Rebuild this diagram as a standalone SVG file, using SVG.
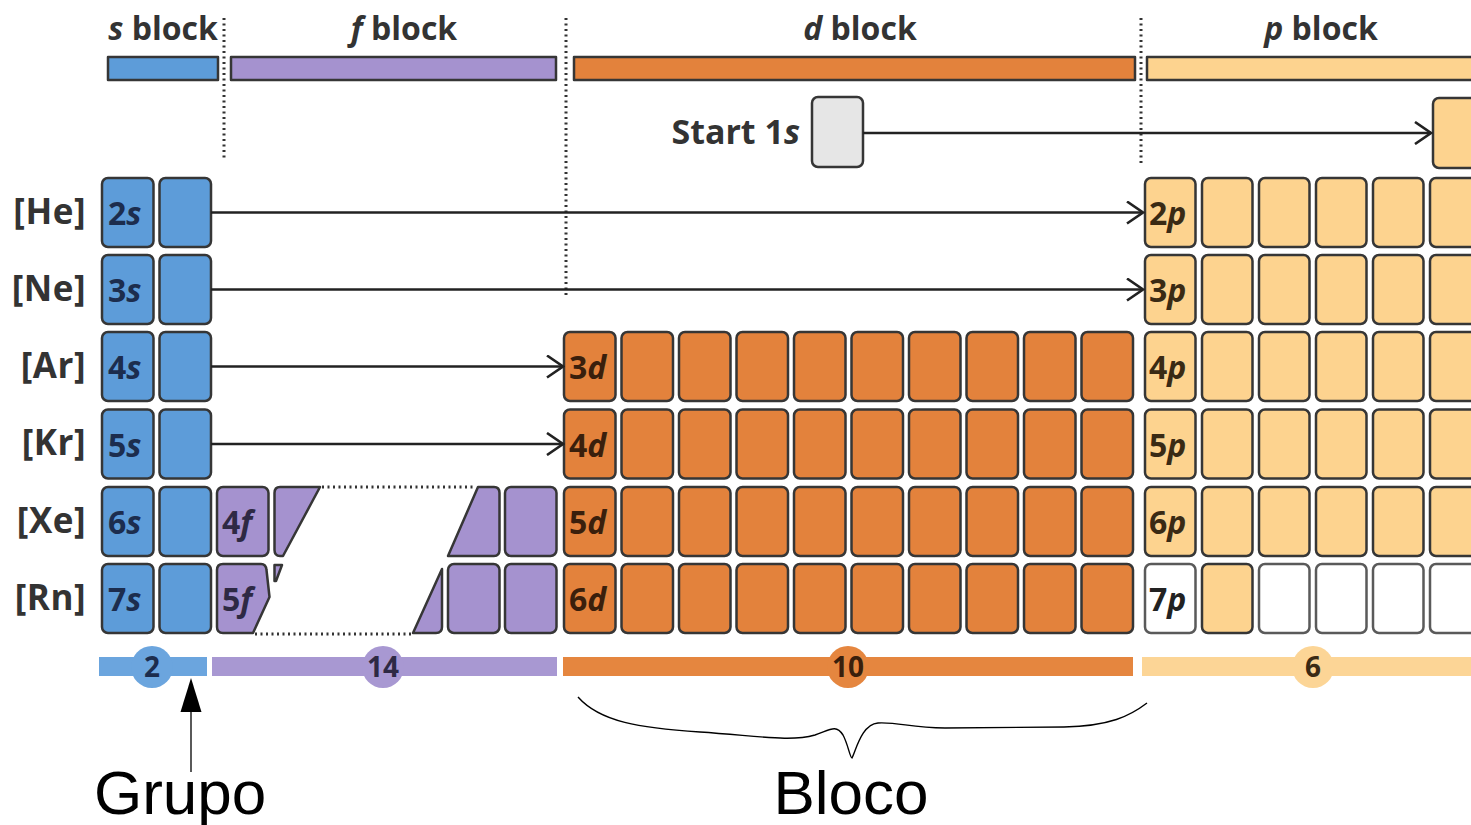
<svg xmlns="http://www.w3.org/2000/svg" width="1471" height="825" viewBox="0 0 1471 825">
<defs>
<style>
.c{stroke:#363636;stroke-width:2.5;stroke-linejoin:round}
.sb{fill:#5d9cd9}.fb{fill:#a592cf}.db{fill:#e3823c}.pb{fill:#fdd38f}.wb{fill:#ffffff;stroke:#5a5a5a}.gb{fill:#e6e6e6}
.t{font-family:"Open Sans","Noto Sans",sans-serif;font-weight:700}
.hd{font-size:32px;fill:#333;text-anchor:middle}
.rl{font-size:35px;fill:#333;text-anchor:end;letter-spacing:0.5px}
.cl{font-size:32px}
.sl{fill:#1c2d4e}.fl{fill:#2e2944}.dl{fill:#3a1f0c}.pl{fill:#3a2a14}
.nm{font-size:28px;text-anchor:middle}
.dot{stroke:#333;stroke-width:3;stroke-dasharray:2 3.5;fill:none}
.ar{stroke:#222;stroke-width:2.5;fill:none}
.an{font-family:"Liberation Sans",Arial,sans-serif;font-size:62px;fill:#000}
</style>
<marker id="ch" viewBox="0 0 20 24" refX="18" refY="12" markerWidth="20" markerHeight="24" markerUnits="userSpaceOnUse" orient="auto">
<path d="M2,1 L18,12 L2,23" fill="none" stroke="#222" stroke-width="2.6"/>
</marker>
</defs>
<rect width="1471" height="825" fill="#fff"/>

<g id="headers">
<rect class="c sb" x="108" y="57" width="110" height="23"/>
<rect class="c fb" x="231" y="57" width="325" height="23"/>
<rect class="c db" x="574" y="57" width="561" height="23"/>
<rect class="c pb" x="1147" y="57" width="340" height="23"/>
<text class="t hd" x="163" y="40"><tspan font-style="italic">s</tspan> block</text>
<text class="t hd" x="404" y="40"><tspan font-style="italic">f</tspan> block</text>
<text class="t hd" x="860" y="40"><tspan font-style="italic">d</tspan> block</text>
<text class="t hd" x="1321" y="40"><tspan font-style="italic">p</tspan> block</text>
<path class="dot" d="M224,18 V158 M566,18 V298 M1141,18 V166"/>
</g>

<g id="row-labels">
<text class="t rl" x="86" y="224">[He]</text>
<text class="t rl" x="86" y="301">[Ne]</text>
<text class="t rl" x="86" y="378">[Ar]</text>
<text class="t rl" x="86" y="455">[Kr]</text>
<text class="t rl" x="86" y="533">[Xe]</text>
<text class="t rl" x="86" y="610">[Rn]</text>
</g>

<g id="start-1s">
<text class="t" x="800" y="144" font-size="34" fill="#333" text-anchor="end">Start 1<tspan font-style="italic">s</tspan></text>
<rect class="c gb" x="812" y="97" width="51" height="70" rx="6"/>
<rect class="c pb" x="1433" y="98" width="51" height="70" rx="6"/>
</g>

<g id="s-block">
<rect class="c sb" x="102" y="178" width="51.5" height="69" rx="6"/><rect class="c sb" x="159.5" y="178" width="51.5" height="69" rx="6"/>
<rect class="c sb" x="102" y="255" width="51.5" height="69" rx="6"/><rect class="c sb" x="159.5" y="255" width="51.5" height="69" rx="6"/>
<rect class="c sb" x="102" y="332" width="51.5" height="69" rx="6"/><rect class="c sb" x="159.5" y="332" width="51.5" height="69" rx="6"/>
<rect class="c sb" x="102" y="409.5" width="51.5" height="69" rx="6"/><rect class="c sb" x="159.5" y="409.5" width="51.5" height="69" rx="6"/>
<rect class="c sb" x="102" y="487" width="51.5" height="69" rx="6"/><rect class="c sb" x="159.5" y="487" width="51.5" height="69" rx="6"/>
<rect class="c sb" x="102" y="564" width="51.5" height="69" rx="6"/><rect class="c sb" x="159.5" y="564" width="51.5" height="69" rx="6"/>
<text class="t cl sl" x="108" y="225">2<tspan font-style="italic">s</tspan></text>
<text class="t cl sl" x="108" y="302">3<tspan font-style="italic">s</tspan></text>
<text class="t cl sl" x="108" y="379">4<tspan font-style="italic">s</tspan></text>
<text class="t cl sl" x="108" y="456.5">5<tspan font-style="italic">s</tspan></text>
<text class="t cl sl" x="108" y="534">6<tspan font-style="italic">s</tspan></text>
<text class="t cl sl" x="108" y="611">7<tspan font-style="italic">s</tspan></text>
</g>

<g id="f-block">
<rect class="c fb" x="217" y="487" width="51.5" height="69" rx="6"/>
<path class="c fb" d="M280,487 L320,487 L283,556 L280,556 Q274.5,556 274.5,550 L274.5,493 Q274.5,487 280,487 Z"/>
<path class="c fb" d="M478,487 L494,487 Q499.5,487 499.5,493 L499.5,550 Q499.5,556 494,556 L448,556 Z"/>
<rect class="c fb" x="505" y="487" width="51.5" height="69" rx="6"/>
<path class="c fb" d="M223,564 L261,564 Q266,564 266.5,570 L269.5,597 L253,633 L223,633 Q217,633 217,627 L217,570 Q217,564 223,564 Z"/>
<path class="c fb" d="M274.5,565 L282,565 L276,581 L274.5,581 Z"/>
<path class="c fb" d="M442,569 L442,627 Q442,633 436,633 L413,633 Z"/>
<rect class="c fb" x="448" y="564" width="51.5" height="69" rx="6"/>
<rect class="c fb" x="505" y="564" width="51.5" height="69" rx="6"/>
<path class="dot" d="M322,487 H476 M255,634 H411" stroke="#555" stroke-width="2.5"/>
<text class="t cl fl" x="222" y="534">4<tspan font-style="italic">f</tspan></text>
<text class="t cl fl" x="222" y="611">5<tspan font-style="italic">f</tspan></text>
</g>

<g id="d-block">
<g id="d-row-3d">
<rect class="c db" x="564" y="332" width="51.5" height="69" rx="6"/><rect class="c db" x="621.5" y="332" width="51.5" height="69" rx="6"/><rect class="c db" x="679" y="332" width="51.5" height="69" rx="6"/><rect class="c db" x="736.5" y="332" width="51.5" height="69" rx="6"/><rect class="c db" x="794" y="332" width="51.5" height="69" rx="6"/><rect class="c db" x="851.5" y="332" width="51.5" height="69" rx="6"/><rect class="c db" x="909" y="332" width="51.5" height="69" rx="6"/><rect class="c db" x="966.5" y="332" width="51.5" height="69" rx="6"/><rect class="c db" x="1024" y="332" width="51.5" height="69" rx="6"/><rect class="c db" x="1081.5" y="332" width="51.5" height="69" rx="6"/>
</g>
<g id="d-row-4d">
<rect class="c db" x="564" y="409.5" width="51.5" height="69" rx="6"/><rect class="c db" x="621.5" y="409.5" width="51.5" height="69" rx="6"/><rect class="c db" x="679" y="409.5" width="51.5" height="69" rx="6"/><rect class="c db" x="736.5" y="409.5" width="51.5" height="69" rx="6"/><rect class="c db" x="794" y="409.5" width="51.5" height="69" rx="6"/><rect class="c db" x="851.5" y="409.5" width="51.5" height="69" rx="6"/><rect class="c db" x="909" y="409.5" width="51.5" height="69" rx="6"/><rect class="c db" x="966.5" y="409.5" width="51.5" height="69" rx="6"/><rect class="c db" x="1024" y="409.5" width="51.5" height="69" rx="6"/><rect class="c db" x="1081.5" y="409.5" width="51.5" height="69" rx="6"/>
</g>
<g id="d-row-5d">
<rect class="c db" x="564" y="487" width="51.5" height="69" rx="6"/><rect class="c db" x="621.5" y="487" width="51.5" height="69" rx="6"/><rect class="c db" x="679" y="487" width="51.5" height="69" rx="6"/><rect class="c db" x="736.5" y="487" width="51.5" height="69" rx="6"/><rect class="c db" x="794" y="487" width="51.5" height="69" rx="6"/><rect class="c db" x="851.5" y="487" width="51.5" height="69" rx="6"/><rect class="c db" x="909" y="487" width="51.5" height="69" rx="6"/><rect class="c db" x="966.5" y="487" width="51.5" height="69" rx="6"/><rect class="c db" x="1024" y="487" width="51.5" height="69" rx="6"/><rect class="c db" x="1081.5" y="487" width="51.5" height="69" rx="6"/>
</g>
<g id="d-row-6d">
<rect class="c db" x="564" y="564" width="51.5" height="69" rx="6"/><rect class="c db" x="621.5" y="564" width="51.5" height="69" rx="6"/><rect class="c db" x="679" y="564" width="51.5" height="69" rx="6"/><rect class="c db" x="736.5" y="564" width="51.5" height="69" rx="6"/><rect class="c db" x="794" y="564" width="51.5" height="69" rx="6"/><rect class="c db" x="851.5" y="564" width="51.5" height="69" rx="6"/><rect class="c db" x="909" y="564" width="51.5" height="69" rx="6"/><rect class="c db" x="966.5" y="564" width="51.5" height="69" rx="6"/><rect class="c db" x="1024" y="564" width="51.5" height="69" rx="6"/><rect class="c db" x="1081.5" y="564" width="51.5" height="69" rx="6"/>
</g>
<text class="t cl dl" x="569" y="379">3<tspan font-style="italic">d</tspan></text>
<text class="t cl dl" x="569" y="456.5">4<tspan font-style="italic">d</tspan></text>
<text class="t cl dl" x="569" y="534">5<tspan font-style="italic">d</tspan></text>
<text class="t cl dl" x="569" y="611">6<tspan font-style="italic">d</tspan></text>
</g>

<g id="p-block">
<g id="p-row-2p">
<rect class="c pb" x="1145" y="178" width="50.5" height="69" rx="6"/><rect class="c pb" x="1202" y="178" width="50.5" height="69" rx="6"/><rect class="c pb" x="1259" y="178" width="50.5" height="69" rx="6"/><rect class="c pb" x="1316" y="178" width="50.5" height="69" rx="6"/><rect class="c pb" x="1373" y="178" width="50.5" height="69" rx="6"/><rect class="c pb" x="1430" y="178" width="50.5" height="69" rx="6"/>
</g>
<g id="p-row-3p">
<rect class="c pb" x="1145" y="255" width="50.5" height="69" rx="6"/><rect class="c pb" x="1202" y="255" width="50.5" height="69" rx="6"/><rect class="c pb" x="1259" y="255" width="50.5" height="69" rx="6"/><rect class="c pb" x="1316" y="255" width="50.5" height="69" rx="6"/><rect class="c pb" x="1373" y="255" width="50.5" height="69" rx="6"/><rect class="c pb" x="1430" y="255" width="50.5" height="69" rx="6"/>
</g>
<g id="p-row-4p">
<rect class="c pb" x="1145" y="332" width="50.5" height="69" rx="6"/><rect class="c pb" x="1202" y="332" width="50.5" height="69" rx="6"/><rect class="c pb" x="1259" y="332" width="50.5" height="69" rx="6"/><rect class="c pb" x="1316" y="332" width="50.5" height="69" rx="6"/><rect class="c pb" x="1373" y="332" width="50.5" height="69" rx="6"/><rect class="c pb" x="1430" y="332" width="50.5" height="69" rx="6"/>
</g>
<g id="p-row-5p">
<rect class="c pb" x="1145" y="409.5" width="50.5" height="69" rx="6"/><rect class="c pb" x="1202" y="409.5" width="50.5" height="69" rx="6"/><rect class="c pb" x="1259" y="409.5" width="50.5" height="69" rx="6"/><rect class="c pb" x="1316" y="409.5" width="50.5" height="69" rx="6"/><rect class="c pb" x="1373" y="409.5" width="50.5" height="69" rx="6"/><rect class="c pb" x="1430" y="409.5" width="50.5" height="69" rx="6"/>
</g>
<g id="p-row-6p">
<rect class="c pb" x="1145" y="487" width="50.5" height="69" rx="6"/><rect class="c pb" x="1202" y="487" width="50.5" height="69" rx="6"/><rect class="c pb" x="1259" y="487" width="50.5" height="69" rx="6"/><rect class="c pb" x="1316" y="487" width="50.5" height="69" rx="6"/><rect class="c pb" x="1373" y="487" width="50.5" height="69" rx="6"/><rect class="c pb" x="1430" y="487" width="50.5" height="69" rx="6"/>
</g>
<g id="p-row-7p">
<rect class="c wb" x="1145" y="564" width="50.5" height="69" rx="6"/><rect class="c pb" x="1202" y="564" width="50.5" height="69" rx="6"/><rect class="c wb" x="1259" y="564" width="50.5" height="69" rx="6"/><rect class="c wb" x="1316" y="564" width="50.5" height="69" rx="6"/><rect class="c wb" x="1373" y="564" width="50.5" height="69" rx="6"/><rect class="c wb" x="1430" y="564" width="50.5" height="69" rx="6"/>
</g>
<text class="t cl pl" x="1149" y="225">2<tspan font-style="italic">p</tspan></text>
<text class="t cl pl" x="1149" y="302">3<tspan font-style="italic">p</tspan></text>
<text class="t cl pl" x="1149" y="379">4<tspan font-style="italic">p</tspan></text>
<text class="t cl pl" x="1149" y="456.5">5<tspan font-style="italic">p</tspan></text>
<text class="t cl pl" x="1149" y="534">6<tspan font-style="italic">p</tspan></text>
<text class="t cl" x="1149" y="611" fill="#222">7<tspan font-style="italic">p</tspan></text>
</g>

<g id="counts">
<rect x="99" y="657" width="108" height="19" fill="#6ba5de"/>
<circle cx="152" cy="667" r="21" fill="#6ba5de"/>
<rect x="212" y="657" width="345" height="19" fill="#a898d2"/>
<circle cx="383" cy="667" r="21" fill="#a898d2"/>
<rect x="563" y="657" width="570" height="19" fill="#e5863f"/>
<circle cx="848" cy="667" r="21" fill="#e5863f"/>
<rect x="1142" y="657" width="340" height="19" fill="#fcd596"/>
<circle cx="1313" cy="667" r="21" fill="#fcd596"/>
<text class="t nm" x="152" y="677" fill="#1c2d4e">2</text>
<text class="t nm" x="383" y="677" fill="#2e2944">14</text>
<text class="t nm" x="848" y="677" fill="#3a1f0c">10</text>
<text class="t nm" x="1313" y="677" fill="#3a2a14">6</text>
</g>

<g id="connectors">
<line class="ar" x1="863" y1="133" x2="1431" y2="133" marker-end="url(#ch)"/>
<line class="ar" x1="211" y1="212.5" x2="1143" y2="212.5" marker-end="url(#ch)"/>
<line class="ar" x1="211" y1="289.5" x2="1143" y2="289.5" marker-end="url(#ch)"/>
<line class="ar" x1="211" y1="366.5" x2="563" y2="366.5" marker-end="url(#ch)"/>
<line class="ar" x1="211" y1="444" x2="563" y2="444" marker-end="url(#ch)"/>
<line x1="191" y1="708" x2="191" y2="772" stroke="#000" stroke-width="1.3"/>
<polygon points="191,678 180.5,712 201.5,712" fill="#000"/>
<path d="M578,697 C600,722 640,728 700,732 C760,736 790,742 815,735 C830,730 836,724 843,735 C848,744 850,758 852,758 C856,750 862,724 878,723 C900,722 910,728 945,728 L1064,727 C1110,726 1130,716 1147,703" fill="none" stroke="#000" stroke-width="1.4"/>
</g>

<g id="annotations">
<text class="an" x="94" y="814">Grupo</text>
<text class="an" x="851" y="814" text-anchor="middle">Bloco</text>
</g>
</svg>
